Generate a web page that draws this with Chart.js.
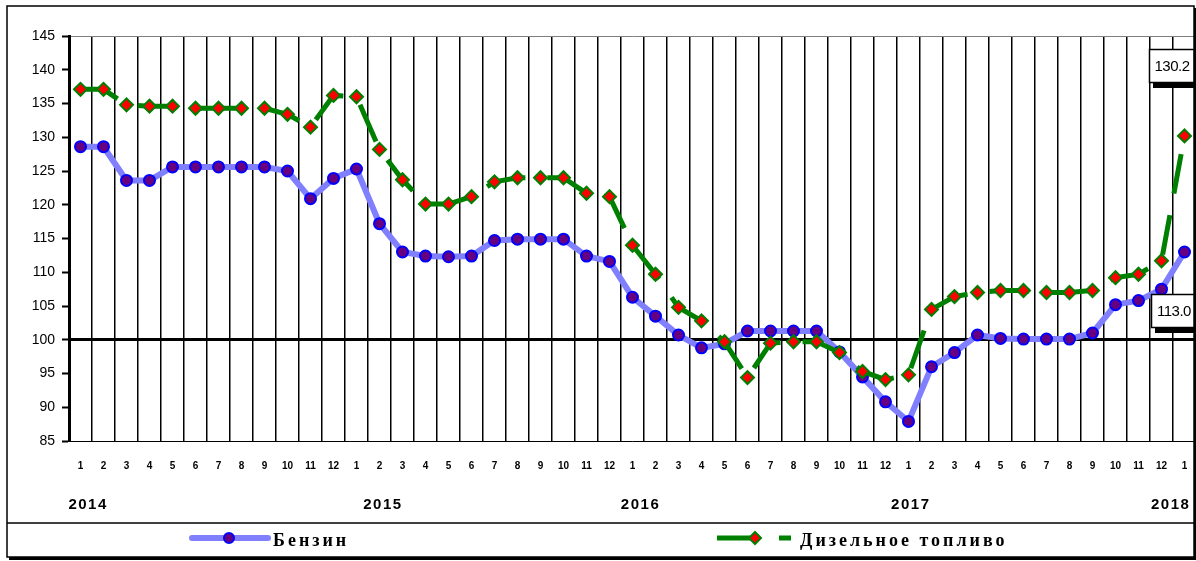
<!DOCTYPE html>
<html lang="ru">
<head>
  <meta charset="UTF-8">
  <title>Бензин и дизельное топливо</title>
  <script src="https://cdn.jsdelivr.net/npm/chart.js"></script>
  <style>
    body {
      margin: 0;
      background: #fff;
    }
    canvas {
      display: block;
      background: #fff;
    }
  </style>
</head>
<body>
  <canvas id="chartFuel" width="1196" height="561"></canvas>

  <script>
    // месяцы 2014-01 ... 2018-01
    const months = [
      '1','2','3','4','5','6','7','8','9','10','11','12',
      '1','2','3','4','5','6','7','8','9','10','11','12',
      '1','2','3','4','5','6','7','8','9','10','11','12',
      '1','2','3','4','5','6','7','8','9','10','11','12',
      '1'
    ];
    const years = ['2014', '2015', '2016', '2017', '2018'];
    // где стоит подпись года (индекс категории)
    const yearPos = [0.33, 13.15, 24.35, 36.1, 47.4];

    const benzin = [
      128.6, 128.6, 123.6, 123.6, 125.6, 125.6, 125.6, 125.6, 125.6, 125.0, 120.9, 123.9,
      125.3, 117.2, 113.0, 112.4, 112.3, 112.4, 114.7, 114.9, 114.9, 114.9, 112.4, 111.6,
      106.3, 103.5, 100.7, 98.8, 99.4, 101.3, 101.3, 101.3, 101.3, 98.2, 94.5, 90.8,
      87.9, 96.0, 98.1, 100.7, 100.2, 100.1, 100.1, 100.1, 101.0, 105.2, 105.8, 107.5,
      113.0
    ];
    const dizel = [
      137.1, 137.1, 134.8, 134.6, 134.6, 134.3, 134.3, 134.3, 134.3, 133.4, 131.5, 136.2,
      136.0, 128.2, 123.7, 120.1, 120.1, 121.2, 123.4, 124.0, 124.0, 124.0, 121.7, 121.2,
      114.0, 109.7, 104.8, 102.8, 99.7, 94.4, 99.5, 99.7, 99.7, 98.1, 95.3, 94.1,
      94.8, 104.5, 106.4, 107.0, 107.3, 107.3, 107.0, 107.0, 107.3, 109.2, 109.7, 111.7,
      130.2
    ];
    const yTicks = [85, 90, 95, 100, 105, 110, 115, 120, 125, 130, 135, 140, 145];

    const blueLine = '#8080ff';
    const greenLine = '#008000';

    // рамка, годы, легенда, подписи последних значений
    const extras = {
      id: 'extras',
      afterDatasetsDraw(chart) {
        const c = chart.ctx;
        const ds = [
          { meta: chart.getDatasetMeta(0), dx: -11, dy: 59 },
          { meta: chart.getDatasetMeta(1), dx: -13, dy: -70 }
        ];
        c.save();
        ds.forEach(d => {
          const pts = d.meta.data;
          const p = pts[pts.length - 1];
          const val = chart.data.datasets[d.meta.index].data[pts.length - 1];
          const w = 46, h = 34;
          const bx = Math.round(p.x + d.dx - w / 2), by = Math.round(p.y + d.dy - h / 2);
          c.fillStyle = '#000';
          c.fillRect(bx + 4, by + 5, w, h);
          c.fillStyle = '#fff';
          c.fillRect(bx, by, w, h);
          c.strokeStyle = '#000';
          c.lineWidth = 1.5;
          c.strokeRect(bx + 0.5, by + 0.5, w - 1, h - 1);
          c.fillStyle = '#000';
          c.font = '15px "Liberation Sans", Arial, sans-serif';
          c.textAlign = 'center';
          c.textBaseline = 'middle';
          c.letterSpacing = '-0.5px';
          c.fillText(val.toFixed(1), bx + w / 2, by + h / 2 + 1);
        });
        c.restore();
      },
      afterDraw(chart) {
        const c = chart.ctx;
        const x = chart.scales.x;
        c.save();

        // годы
        c.fillStyle = '#000';
        c.font = 'bold 15px "Liberation Sans", Arial, sans-serif';
        c.textAlign = 'center';
        c.textBaseline = 'middle';
        c.letterSpacing = '1.5px';
        years.forEach((y, i) => {
          const px = x.left + (yearPos[i] + 0.5) * (x.width / months.length);
          c.fillText(y, px, 505);
        });

        // рамка
        c.letterSpacing = '0px';
        c.strokeStyle = '#000';
        c.lineWidth = 1.5;
        c.strokeRect(7, 6, 1187, 551);
        c.beginPath();
        c.moveTo(7, 523);
        c.lineTo(1194, 523);
        c.stroke();
        c.fillRect(9, 557, 1187, 3);
        c.fillRect(1194, 8, 2, 552);

        // легенда
        const ly = 538;
        c.strokeStyle = blueLine;
        c.lineWidth = 6;
        c.lineCap = 'round';
        c.beginPath();
        c.moveTo(192, ly);
        c.lineTo(268, ly);
        c.stroke();
        c.beginPath();
        c.arc(229, ly, 5, 0, Math.PI * 2);
        c.fillStyle = '#660080';
        c.fill();
        c.strokeStyle = '#0000ff';
        c.lineWidth = 2;
        c.stroke();

        c.lineCap = 'butt';
        c.strokeStyle = greenLine;
        c.lineWidth = 5;
        c.setLineDash([40, 22]);
        c.beginPath();
        c.moveTo(717, ly);
        c.lineTo(791, ly);
        c.stroke();
        c.setLineDash([]);
        c.beginPath();
        c.moveTo(755, ly - 6);
        c.lineTo(761, ly);
        c.lineTo(755, ly + 6);
        c.lineTo(749, ly);
        c.closePath();
        c.fillStyle = '#ff0000';
        c.fill();
        c.strokeStyle = greenLine;
        c.lineWidth = 2;
        c.stroke();

        c.fillStyle = '#000';
        c.font = 'bold 18px "Liberation Serif", "Times New Roman", serif';
        c.textAlign = 'left';
        c.textBaseline = 'middle';
        c.letterSpacing = '3px';
        c.fillText(chart.data.datasets[0].label, 273, 541);
        c.fillText(chart.data.datasets[1].label, 800, 541);
        c.restore();
      }
    };

    const ctx = document.getElementById('chartFuel').getContext('2d');

    const chartFuel = new Chart(ctx, {
      type: 'line',
      data: {
        labels: months,
        datasets: [{
          label: 'Бензин',
          data: benzin,
          borderColor: blueLine,
          borderWidth: 6,
          tension: 0,
          fill: false,
          pointStyle: 'circle',
          pointRadius: 5.5,
          pointBackgroundColor: '#660080',
          pointBorderColor: '#0000ff',
          pointBorderWidth: 2,
          order: 2
        }, {
          label: 'Дизельное топливо',
          data: dizel,
          borderColor: greenLine,
          borderWidth: 5,
          borderDash: [40, 22],
          tension: 0,
          fill: false,
          pointStyle: 'rectRot',
          pointRadius: 6.5,
          pointBackgroundColor: '#ff0000',
          pointBorderColor: greenLine,
          pointBorderWidth: 2,
          order: 1
        }]
      },
      options: {
        responsive: false,
        animation: false,
        devicePixelRatio: 1,
        layout: {
          autoPadding: false,
          padding: { left: 0, top: 36, right: 0, bottom: 80 }
        },
        plugins: {
          legend: { display: false },
          tooltip: { enabled: false }
        },
        scales: {
          x: {
            type: 'category',
            offset: true,
            afterFit: s => {
              s.height = 40;
              s.paddingLeft = 0;
              s.paddingRight = 0;
            },
            grid: {
              offset: true,
              color: '#000',
              lineWidth: 1.5,
              drawTicks: false
            },
            border: { display: true, color: '#000', width: 1 },
            ticks: {
              autoSkip: false,
              maxRotation: 0,
              padding: 19,
              color: '#000',
              font: { family: '"Liberation Sans", Arial, sans-serif', size: 10, weight: 'bold' }
            }
          },
          y: {
            min: 85,
            max: 145,
            afterFit: s => { s.width = 69; },
            afterBuildTicks: s => { s.ticks = yTicks.map(v => ({ value: v })); },
            grid: {
              color: c => c.tick && c.tick.value === 100 ? '#000' : (c.tick && c.tick.value === 145 ? '#808080' : 'rgba(0,0,0,0)'),
              lineWidth: c => c.tick && c.tick.value === 100 ? 3 : 1,
              tickColor: '#000',
              tickLength: 7,
              tickWidth: 2
            },
            border: { display: true, color: '#000', width: 3 },
            ticks: {
              padding: 7,
              color: '#000',
              font: { family: '"Liberation Sans", Arial, sans-serif', size: 14 }
            }
          }
        }
      },
      plugins: [extras]
    });
  </script>
</body>
</html>
